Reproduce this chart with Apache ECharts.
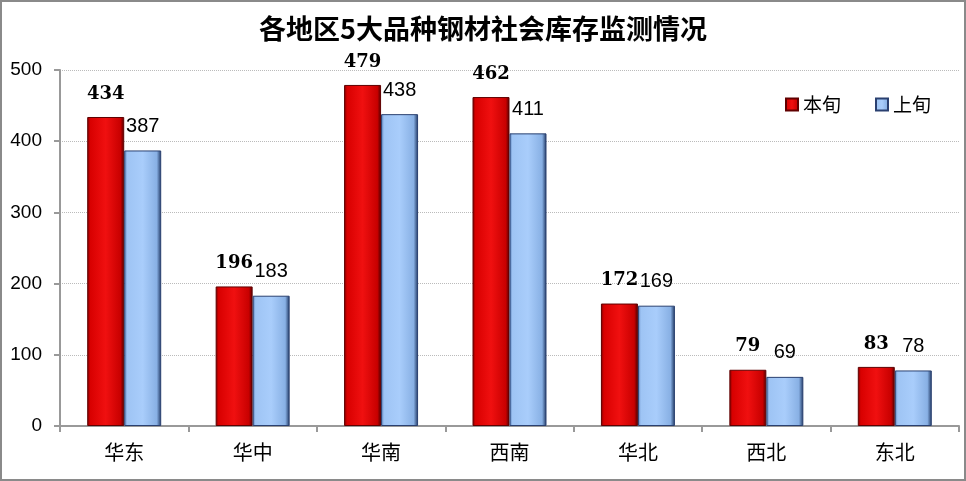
<!DOCTYPE html>
<html><head><meta charset="utf-8">
<script src="https://cdn.jsdelivr.net/npm/echarts@6/dist/echarts.min.js"></script>
<style>
html,body{margin:0;padding:0;background:#fff;}
#c{width:966px;height:481px;position:absolute;left:0;top:0;}
#b{position:absolute;left:0;top:0;width:966px;height:481px;box-sizing:border-box;border:2px solid #8a8a8a;pointer-events:none;}
</style></head>
<body><div id="c"></div><div id="b"></div>
<script>
const titleText = '各地区5大品种钢材社会库存监测情况';
const categories = ['华东','华中','华南','西南','华北','西北','东北'];
const thisPeriod = [434,196,479,462,172,79,83];
const lastPeriod = [387,183,438,411,169,69,78];
const seriesNames = ['本旬','上旬'];

const chart = echarts.init(document.getElementById('c'));
const redGrad = new echarts.graphic.LinearGradient(0,0,1,0,[
  {offset:0,color:'#7a0000'},{offset:0.08,color:'#d80000'},{offset:0.5,color:'#f01010'},
  {offset:0.9,color:'#c80000'},{offset:1,color:'#500000'}]);
const blueGrad = new echarts.graphic.LinearGradient(0,0,1,0,[
  {offset:0,color:'#5a7fb8'},{offset:0.08,color:'#9ec4f4'},{offset:0.5,color:'#a9cdfb'},
  {offset:0.88,color:'#88b0e4'},{offset:1,color:'#1e3560'}]);
chart.setOption({
  animation:false,
  title:{text:titleText,left:'center',top:10,
    textStyle:{fontFamily:'Noto Sans CJK SC',fontWeight:'bold',fontSize:27,color:'#000'}},
  legend:{data:seriesNames,left:780,top:90,itemWidth:12,itemHeight:12,itemGap:34,icon:'rect',
    textStyle:{fontFamily:'Noto Sans CJK SC',fontSize:19,color:'#000'}},
  grid:{left:60,right:7,top:70,bottom:55},
  xAxis:{type:'category',data:categories,
    axisLine:{lineStyle:{color:'#999',width:2}},
    axisTick:{show:true,length:6,lineStyle:{color:'#999',width:2}},
    axisLabel:{fontFamily:'Noto Sans CJK SC',fontSize:20,color:'#000',margin:16}},
  yAxis:{type:'value',min:0,max:500,interval:100,
    axisLine:{show:true,lineStyle:{color:'#999',width:2}},
    axisTick:{show:true,length:6,lineStyle:{color:'#999',width:2}},
    axisLabel:{fontFamily:'Liberation Sans',fontSize:19,color:'#000',margin:18},
    splitLine:{lineStyle:{color:'#bbb',type:'dotted',width:1}}},
  series:[
    {name:seriesNames[0],type:'bar',data:thisPeriod,barWidth:37,barGap:'0%',
      itemStyle:{color:redGrad,borderColor:'#600000',borderWidth:1},
      label:{show:true,position:'top',distance:14,fontFamily:'DejaVu Serif',fontWeight:'bold',fontSize:18,color:'#000'}},
    {name:seriesNames[1],type:'bar',data:lastPeriod,barWidth:37,
      itemStyle:{color:blueGrad,borderColor:'#2a4070',borderWidth:1},
      label:{show:true,position:'top',distance:14,fontFamily:'Liberation Sans',fontSize:20,color:'#000'}}
  ]
});
</script></body></html>
